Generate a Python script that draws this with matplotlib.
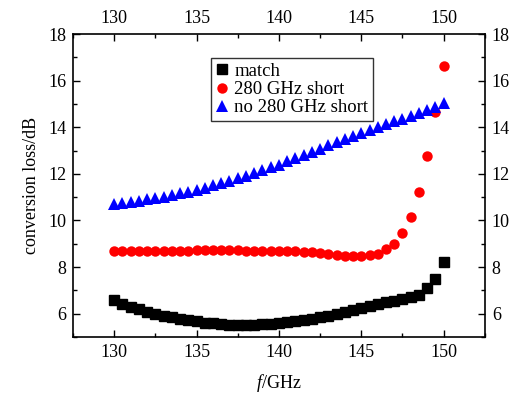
import numpy as np
import matplotlib
matplotlib.use("Agg")
import matplotlib.pyplot as plt
from matplotlib.ticker import MultipleLocator

plt.rcParams['font.family'] = ['Liberation Serif', 'DejaVu Serif']
plt.rcParams['mathtext.fontset'] = 'custom'
plt.rcParams['mathtext.it'] = 'Liberation Serif:italic'
plt.rcParams['mathtext.rm'] = 'Liberation Serif'

freq = [130 + 0.5 * i for i in range(41)]

match = [6.57, 6.42, 6.30, 6.19, 6.09, 6.00, 5.92, 5.85, 5.78, 5.72,
         5.67, 5.62, 5.58, 5.55, 5.53, 5.52, 5.52, 5.53, 5.55, 5.57,
         5.60, 5.64, 5.68, 5.73, 5.79, 5.85, 5.92, 5.99, 6.07, 6.15,
         6.23, 6.31, 6.40, 6.48, 6.56, 6.64, 6.72, 6.80, 7.10, 7.50,
         8.20]

short280 = [8.68, 8.69, 8.69, 8.70, 8.70, 8.70, 8.71, 8.71, 8.71, 8.71,
            8.72, 8.72, 8.72, 8.72, 8.72, 8.72, 8.71, 8.71, 8.71, 8.70,
            8.70, 8.69, 8.68, 8.66, 8.63, 8.59, 8.55, 8.51, 8.48, 8.46,
            8.46, 8.50, 8.58, 8.76, 9.00, 9.46, 10.13, 11.22, 12.78, 14.65,
            16.64]

no_short = [10.71, 10.75, 10.80, 10.85, 10.90, 10.96, 11.02, 11.09, 11.16, 11.24,
            11.32, 11.41, 11.50, 11.60, 11.70, 11.81, 11.92, 12.04, 12.16, 12.28,
            12.40, 12.53, 12.66, 12.80, 12.94, 13.08, 13.22, 13.36, 13.50, 13.64,
            13.77, 13.90, 14.02, 14.14, 14.26, 14.37, 14.49, 14.61, 14.74, 14.88,
            15.03]

fig = plt.figure(figsize=(5.27, 3.94), dpi=100)
ax = fig.add_axes([0.1385, 0.1447, 0.7815, 0.769])

ax.plot(freq, match, 's', color='black', markersize=6.5, label='match', zorder=3)
ax.plot(freq, short280, 'o', color='#ff0000', markersize=7.5, markeredgewidth=0,
        label='280 GHz short', zorder=3)
ax.plot(freq, no_short, '^', color='#0000ff', markersize=8, markeredgewidth=0,
        label='no 280 GHz short', zorder=3)

ax.set_xlim(127.5, 152.5)
ax.set_ylim(5, 18)
ax.xaxis.set_major_locator(MultipleLocator(5))
ax.xaxis.set_minor_locator(MultipleLocator(2.5))
ax.yaxis.set_major_locator(MultipleLocator(2))
ax.yaxis.set_minor_locator(MultipleLocator(1))
ax.tick_params(which='both', direction='in', top=True, right=True,
               labeltop=True, labelright=True, labelsize=13, width=1)
ax.tick_params(which='major', length=5, pad=5)
ax.tick_params(which='minor', length=3)
for s in ax.spines.values():
    s.set_linewidth(1.2)

ax.set_xlabel(r'$\mathit{f}$/GHz', fontsize=13, labelpad=8)
ax.set_ylabel('conversion loss/dB', fontsize=13, labelpad=6)

leg = ax.legend(loc='upper left', bbox_to_anchor=(0.335, 0.92), fontsize=13.5,
                frameon=True, fancybox=False, handlelength=0.7, handletextpad=0.3,
                borderpad=0.25, labelspacing=0.05, borderaxespad=0)
leg.get_frame().set_edgecolor('black')
leg.get_frame().set_linewidth(1.0)

fig.savefig('out.png', dpi=100)
